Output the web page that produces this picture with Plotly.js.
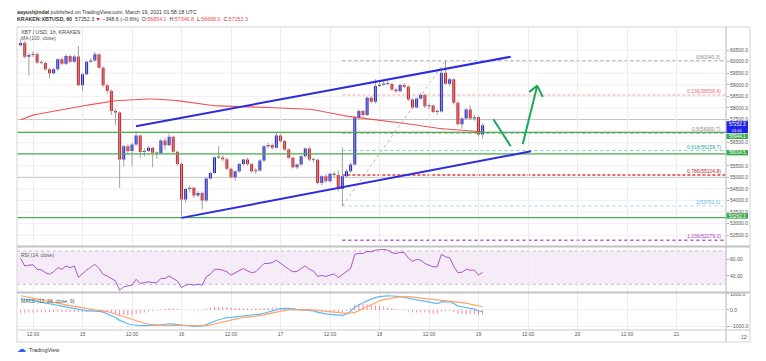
<!DOCTYPE html>
<html><head><meta charset="utf-8">
<script src="https://cdn.plot.ly/plotly-3.0.1.min.js"></script>
<style>html,body{margin:0;padding:0;background:#fff;}#chart{width:766px;height:361px;}</style>
</head><body><div id="chart"></div>
<script>
// ---------- DATA (hourly candles, KRAKEN:XBTUSD, from 2021-03-14 09:00 UTC) ----------
const firstCandleUTC = [2021, 2, 14, 9];
const opens = [
60710,60810,60215,60290,60320,59960,59940,59670,59500,59670,
60100,59910,60250,60000,60220,58980,59455,60000,60050,60320,
59740,58980,58730,57866,57800,55775,56350,56140,56424,56813,
56100,56140,56277,56060,56040,56597,56394,56753,56104,55584,
54043,54502,54550,54216,54330,54000,54952,55195,55875,55860,
55780,55368,55009,55268,55584,55775,55584,55268,55300,55730,
56350,56400,56280,56813,56567,56208,55845,55440,55558,55918,
56250,55775,55760,54762,55052,54835,55152,55100,54502,55052,
55268,55558,57576,57866,57693,58442,58268,58950,59000,59060,
59040,58800,58720,58990,58915,58370,58020,58410,58555,58077,
58110,57830,57850,59520,59050,59240,58220,57300,57545,57935,
57545,57600,56854.1];
const highs = [
60980,60900,60380,60450,60400,60050,60000,59720,59720,60150,
60180,60330,60300,60300,60680,59500,60050,60150,60420,60350,
59800,59050,58800,57950,57850,56400,56420,56500,57000,56850,
56250,56350,56320,56120,56650,56700,56900,56800,56150,55620,
54550,54650,54600,54400,54400,55000,55250,55900,56350,55950,
55850,55420,55300,55620,55800,55850,55620,55400,55780,56400,
56480,56470,56950,56880,56620,56260,55900,55600,55950,56300,
56330,55850,55800,55100,55150,55200,55250,55300,56300,55350,
55650,57650,57950,57920,58500,58500,59250,59150,59200,59180,
59100,58850,59050,59080,58980,58420,58450,58650,58620,58200,
58150,57950,59600,60040.3,59300,59280,58300,57600,58000,58120,
57700,57650,57346.8];
const lows = [
60650,60150,59400,60200,59900,59880,59620,59280,59450,59600,
59850,59850,59950,59950,58950,58730,59400,59950,60000,59700,
58900,58600,57700,57260,54550,55480,56000,55500,56350,55845,
55900,56100,55440,55800,56000,56200,56350,56050,55500,53300,
53900,54350,54100,54150,53620,53950,54900,55150,55800,55700,
55300,54950,54850,55200,55500,55500,55200,55150,55250,55650,
56250,56200,56250,56500,56150,55800,55380,55350,55500,55850,
55700,55650,54700,54650,54780,54780,55000,54400,53761.1,55000,
55200,55500,57500,57600,57650,58200,58200,58900,58950,58980,
58750,58650,58680,58850,58300,57950,57980,58350,58000,57950,
57780,57700,57800,59000,58950,58150,57250,57100,57500,57480,
57450,56760,56668.0];
const closes = [
60810,60215,60290,60320,59960,59940,59670,59500,59670,60100,
59910,60250,60000,60220,58980,59455,60000,60050,60320,59740,
58980,58730,57866,57800,55775,56350,56140,56424,56813,56100,
56140,56277,56060,56040,56597,56394,56753,56104,55584,54043,
54502,54550,54216,54330,54000,54952,55195,55875,55860,55780,
55368,55009,55268,55584,55775,55584,55268,55300,55730,56350,
56400,56280,56813,56567,56208,55845,55440,55558,55918,56250,
55775,55760,54762,55052,54835,55152,55100,54502,55052,55268,
55558,57576,57866,57693,58442,58268,58950,59000,59060,59040,
58800,58720,58990,58915,58370,58020,58410,58555,58077,58110,
57830,57850,59520,59050,59240,58220,57300,57545,57935,57545,
57600,56854.1,57252.3];
const ma100 = [
57490,57560,57630,57690,57725,57760,57795,57830,57860,57895,
57930,57970,57995,58025,58055,58085,58115,58145,58175,58210,
58240,58265,58295,58310,58320,58330,58340,58355,58375,58390,
58390,58388,58385,58380,58370,58360,58348,58335,58315,58290,
58265,58235,58200,58165,58140,58125,58110,58095,58090,58087,
58084,58081,58075,58068,58055,58045,58040,58035,58030,58025,
58020,58015,58008,58002,57997,57990,57982,57972,57963,57955,
57946,57925,57895,57865,57835,57800,57762,57724,57686,57647,
57625,57600,57577,57557,57540,57522,57504,57486,57468,57445,
57418,57393,57368,57343,57322,57292,57262,57230,57200,57165,
57140,57118,57105,57090,57072,57060,57048,57035,57022,57010,
56995,56978,56962];
const rsi14 = [
61,52,53,53.5,48,47.5,44,42,45,50,
48,52,50,52,38.5,43,47,50.5,54,49,
42,40,37,34,23,27,28,29,36,31,
32,33,32,32,37,37,40,37,34,26,
29,30,29,30,29,39,42,48,48,47,
45,41,44,47,49,46,44,45,50,55,
55,56,59,55,52,48,45,45.5,49,52,
48,46,39.5,40.5,39.5,41,42.5,38,41.5,45.5,
49,66,67,67,69.5,69,71,71.5,72,71,
68,67,68.5,68,61.5,57.5,60,59,55,53,
51,51,66,63,62,51.5,44,44.5,48,47,
47,41,44.5];
const macdLine = [
700,670,630,590,545,490,440,390,340,300,
250,190,130,90,40,-20,-50,-60,-55,-80,
-130,-230,-330,-460,-640,-750,-850,-910,-950,-966,
-970,-968,-960,-940,-915,-890,-850,-870,-900,-960,
-990,-1005,-1010,-1005,-1000,-900,-800,-680,-600,-540,
-470,-455,-430,-400,-380,-350,-340,-310,-250,-200,
-120,-40,40,80,100,100,80,40,10,0,
-10,-60,-150,-210,-240,-270,-300,-340,-330,-250,
-80,170,330,450,560,680,760,820,860,870,
865,855,820,770,720,640,610,580,550,500,
440,400,500,520,500,400,240,200,160,110,
50,-60,-100];
const signalLine = [
880,840,790,740,690,640,580,520,470,420,
370,320,270,220,170,120,80,40,10,-20,
-50,-100,-170,-250,-340,-440,-530,-610,-690,-760,
-820,-870,-905,-925,-940,-950,-955,-960,-963,-966,
-970,-970,-970,-968,-966,-960,-925,-860,-780,-720,
-660,-610,-560,-510,-460,-430,-420,-390,-340,-300,
-240,-180,-110,-60,-20,0,10,25,35,40,
20,0,-25,-50,-80,-103,-140,-170,-200,-210,
-190,-150,-50,80,220,360,480,570,640,700,
740,780,810,823,820,790,760,735,705,675,
650,630,600,580,560,530,490,460,420,360,
310,250,200];
const macdHist = [
-180,-170,-160,-150,-145,-150,-140,-130,-130,-120,
-120,-130,-140,-130,-130,-140,-130,-100,-65,-60,
-80,-130,-160,-210,-300,-310,-320,-300,-260,-206,
-150,-98,-55,-15,25,60,105,90,63,6,
-20,-35,-40,-37,-34,60,125,180,180,180,
190,155,130,110,80,80,80,80,90,100,
120,140,150,140,120,100,70,15,-25,-40,
-30,-60,-125,-160,-160,-167,-160,-170,-130,-40,
110,320,380,370,340,320,280,250,220,170,
125,75,10,-53,-100,-150,-150,-155,-155,-175,
-210,-230,-100,-60,-60,-130,-250,-260,-260,-250,
-260,-310,-300];

const timeTickVals = ['2021-03-14 12:00','2021-03-15 00:00','2021-03-15 12:00','2021-03-16 00:00','2021-03-16 12:00','2021-03-17 00:00','2021-03-17 12:00','2021-03-18 00:00','2021-03-18 12:00','2021-03-19 00:00','2021-03-19 12:00','2021-03-20 00:00','2021-03-20 12:00','2021-03-21 00:00'];
const timeTickText = ['12:00','15','12:00','16','12:00','17','12:00','18','12:00','19','12:00','20','12:00','21'];
// 57000.0 and 56000.0 sit under the price boxes in the reference, so they are not shown
const priceTickVals = [52500,53000,53500,54000,54500,55000,55500,56500,57500,58000,58500,59000,59500,60000,60500];
const priceTickText = ['52500.0','53000.0','53500.0','54000.0','54500.0','55000.0','55500.0','56500.0','57500.0','58000.0','58500.0','59000.0','59500.0','60000.0','60500.0'];
const gridPriceVals = [52500,53000,53500,54000,54500,55000,55500,56000,56500,57000,57500,58000,58500,59000,59500,60000,60500];
const rsiTickVals = [40, 60];
const rsiTickText = ['40.00','60.00'];
const macdTickVals = [1000, 0, -1000];
const macdTickText = ['1000.0','0.0','\u22121000.0'];

// drawings
const greenLevels = [56944.1, 56014.5, 53262.3];
const darkGridLevels = [57500, 55000];
const fibRatios = ['0','0.236','0.5','0.618','0.786','1','1.236'];
const fibPrices = [60040.3, 58558.4, 56900.7, 56159.7, 55104.8, 53761.1, 52279.2];
const fibLineColors = ['#a8a8a8','#f4a6a6','#a8a8a8','#7ccfc4','#e53935','#9fd0f5','#b452d6'];
const fibTextColors = ['#8a8a8a','#f07070','#8a8a8a','#26a69a','#b71c1c','#5ab4ee','#a43fc8'];
const fibStart = '2021-03-17 15:00', fibHigh = '2021-03-18 16:00', chartEnd = '2021-03-21 12:00';
const upperChannelT = ['2021-03-15 12:58','2021-03-19 07:48'], upperChannelP = [57211, 60212];
const lowerChannelT = ['2021-03-16 00:00','2021-03-19 12:44'], lowerChannelP = [53250, 56128];
const arrowDownT = ['2021-03-19 03:36','2021-03-19 07:48'], arrowDownP = [57514, 56345];
const arrowUpT = ['2021-03-19 10:43','2021-03-19 14:15'], arrowUpP = [56431, 58965];
const arrowHeadT = ['2021-03-19 12:19','2021-03-19 14:15','2021-03-19 15:34'], arrowHeadP = [58696, 58965, 58480];

// ---------- BUILD ----------
const F = 'Liberation Sans, Arial, sans-serif';
const t0 = Date.UTC(firstCandleUTC[0], firstCandleUTC[1], firstCandleUTC[2], firstCandleUTC[3]);
const times = opens.map((_, k) => new Date(t0 + k * 3600e3).toISOString().slice(0, 16).replace('T', ' '));

const upColor = '#2222dc', downColor = '#e3171f', dojiColor = '#3a3a3a';
const bodyBase = opens.map((o, k) => Math.min(o, closes[k]));
const bodyLen = opens.map((o, k) => Math.max(Math.abs(closes[k] - o), 40));
const bodyColor = opens.map((o, k) => Math.abs(closes[k] - o) < 56 ? dojiColor : (closes[k] >= o ? upColor : downColor));
const wx = [], wy = [];
times.forEach((t, k) => { wx.push(t, t, null); wy.push(lows[k], highs[k], null); });

const L = 17, R = 726, T = 27, B = 330;
const xp = px => (px - L) / (R - L);
const yp = py => (B - py) / (B - T);

const traces = [
  {type:'scatter', mode:'lines', x: wx, y: wy, line:{color:'#a0a0a0', width:1}, xaxis:'x', yaxis:'y', hoverinfo:'skip'},
  {type:'bar', x: times, y: bodyLen, base: bodyBase, width: 2.6e6, marker:{color: bodyColor, line:{width:0}}, xaxis:'x', yaxis:'y'},
  {type:'scatter', mode:'lines', x: times, y: ma100, line:{color:'rgba(240,50,50,0.85)', width:1.1}, xaxis:'x', yaxis:'y'},
  {type:'scatter', mode:'lines', x: times, y: rsi14, line:{color:'#a855c8', width:1}, xaxis:'x', yaxis:'y2'},
  {type:'bar', x: times, y: macdHist, width: 0.8e6, marker:{color:'rgba(242,80,125,0.75)', line:{width:0}}, xaxis:'x', yaxis:'y3'},
  {type:'scatter', mode:'lines', x: times, y: macdLine, line:{color:'#5cbcf2', width:1.2}, xaxis:'x', yaxis:'y3'},
  {type:'scatter', mode:'lines', x: times, y: signalLine, line:{color:'#ffa268', width:1.2}, xaxis:'x', yaxis:'y3'}
];

const shapes = [];
function pline(x0, y0, x1, y1, color, width, dash) {
  shapes.push({type:'line', xref:'paper', yref:'paper', x0: xp(x0), y0: yp(y0), x1: xp(x1), y1: yp(y1), line:{color, width, dash: dash || 'solid'}, layer:'above'});
}
// light price grid (every 500)
gridPriceVals.forEach(v => shapes.push({type:'line', xref:'paper', yref:'y', x0:0, x1:1, y0:v, y1:v, line:{color:'#efefef', width:1}, layer:'below'}));
// RSI band
shapes.push({type:'rect', xref:'paper', yref:'y2', x0:0, x1:1, y0:30, y1:70, fillcolor:'rgba(156,39,176,0.09)', line:{width:0}, layer:'below'});
[70, 30].forEach(v => shapes.push({type:'line', xref:'paper', yref:'y2', x0:0, x1:1, y0:v, y1:v, line:{color:'#cfaede', width:1, dash:'dot'}, layer:'below'}));
// darker grid levels
darkGridLevels.forEach(v => shapes.push({type:'line', xref:'paper', yref:'y', x0:0, x1:1, y0:v, y1:v, line:{color:'#c6c6c6', width:1}, layer:'below'}));
// fib levels
fibPrices.forEach((p, k) => shapes.push({type:'line', xref:'x', yref:'y', x0: fibStart, x1: chartEnd, y0:p, y1:p,
  line:{color: fibLineColors[k], width: (k === 4 || k === 6) ? 1.5 : 1, dash: (k === 1 || k === 4) ? '3px,2px' : 'dot'}, layer:'below'}));
shapes.push({type:'line', xref:'x', yref:'y', x0: fibStart, y0: fibPrices[5], x1: fibHigh, y1: fibPrices[0], line:{color:'#b5b5b5', width:1, dash:'dot'}, layer:'below'});
// green levels
greenLevels.forEach(v => shapes.push({type:'line', xref:'paper', yref:'y', x0:0, x1:1, y0:v, y1:v, line:{color:'#4caf50', width:1.3}, layer:'above'}));
// channel
shapes.push({type:'line', xref:'x', yref:'y', x0: upperChannelT[0], y0: upperChannelP[0], x1: upperChannelT[1], y1: upperChannelP[1], line:{color:'#2b2be0', width:2}, layer:'above'});
shapes.push({type:'line', xref:'x', yref:'y', x0: lowerChannelT[0], y0: lowerChannelP[0], x1: lowerChannelT[1], y1: lowerChannelP[1], line:{color:'#2b2be0', width:2}, layer:'above'});
// green arrows
const gC = '#17a85a';
shapes.push({type:'line', xref:'x', yref:'y', x0: arrowDownT[0], y0: arrowDownP[0], x1: arrowDownT[1], y1: arrowDownP[1], line:{color:gC, width:2}, layer:'above'});
shapes.push({type:'line', xref:'x', yref:'y', x0: arrowUpT[0], y0: arrowUpP[0], x1: arrowUpT[1], y1: arrowUpP[1], line:{color:gC, width:2}, layer:'above'});
shapes.push({type:'line', xref:'x', yref:'y', x0: arrowHeadT[0], y0: arrowHeadP[0], x1: arrowHeadT[1], y1: arrowHeadP[1], line:{color:gC, width:2}, layer:'above'});
shapes.push({type:'line', xref:'x', yref:'y', x0: arrowHeadT[1], y0: arrowHeadP[1], x1: arrowHeadT[2], y1: arrowHeadP[2], line:{color:gC, width:2}, layer:'above'});
// frame & separators
shapes.push({type:'rect', xref:'paper', yref:'paper', x0: xp(17), x1: xp(750), y0: yp(27), y1: yp(342), line:{color:'#d4d4d4', width:1}, layer:'above'});
pline(726, 27, 726, 342, '#b8b8b8', 1);
pline(17, 246.5, 750, 246.5, '#c2c2c2', 2);
pline(17, 292.5, 750, 292.5, '#c2c2c2', 2);
pline(17, 330, 750, 330, '#c8c8c8', 1);
// price boxes
function pbox(y0, y1, color) { shapes.push({type:'rect', xref:'paper', yref:'paper', x0: xp(726.5), x1: xp(748), y0: yp(y0), y1: yp(y1), fillcolor: color, line:{width:0}, layer:'above'}); }
pbox(121.2, 133.0, '#2222e6');
pbox(133.6, 139.0, '#3daa4f');
pbox(150.0, 155.4, '#3daa4f');
pbox(213.3, 218.7, '#3daa4f');

const annotations = [];
function txt(px, py, text, size, color, anchor) {
  annotations.push({xref:'paper', yref:'paper', x: xp(px), y: yp(py), text, showarrow:false, xanchor: anchor || 'left', yanchor:'middle', font:{size, color, family:F}, borderpad:0});
}
txt(16, 12, '<b>aayushjindal</b> published on TradingView.com, March 19, 2021 01:58:18 UTC', 5.3, '#333');
txt(16, 19, '<b>KRAKEN:XBTUSD, 60</b>  57252.3 <span style="color:#e0202a">\u25BC</span> \u2212348.6 (\u22120.6%)  O:<span style="color:#ef4b55">56854.1</span>  H:<span style="color:#ef4b55">57346.8</span>  L:<span style="color:#ef4b55">56668.0</span>  C:<span style="color:#ef4b55">57252.3</span>', 5.3, '#333');
txt(20, 32, 'XBT / USD, 1h, KRAKEN', 5.3, '#444');
txt(20, 38.5, 'MA (100, close)', 5, '#555');
txt(20, 254.5, 'RSI (14, close)', 5, '#555');
txt(20, 300.5, 'MACD (12, 26, close, 9)', 5, '#555');
txt(737.3, 124.8, '57252.3', 4.6, '#fff', 'center');
txt(737.3, 130.4, '01:01', 4.0, '#fff', 'center');
txt(737.3, 136.3, '56944.1', 4.6, '#fff', 'center');
txt(737.3, 152.7, '56014.5', 4.6, '#fff', 'center');
txt(737.3, 216.0, '53262.3', 4.6, '#fff', 'center');
txt(740, 336.5, '12:', 5, '#555');
txt(28, 349.5, 'TradingView', 5.5, '#333');
txt(16, 349, '\u2601', 9, '#2a62f2');
fibPrices.forEach((p, k) => annotations.push({xref:'paper', yref:'y', x: xp(722), y: p, xanchor:'right', yanchor:'bottom',
  text: fibRatios[k] + '(' + p.toFixed(1) + ')', showarrow:false, borderpad:0, font:{size:5, color: fibTextColors[k], family:F}}));

const tf = {size:5, color:'#555', family:F};
const layout = {
  width:766, height:361, margin:{l:L, r:766 - R, t:T, b:361 - B},
  paper_bgcolor:'#fff', plot_bgcolor:'#fff', showlegend:false, barmode:'overlay', hovermode:false,
  xaxis:{type:'date', range:['2021-03-14 08:07:16', chartEnd], anchor:'y3', tickvals: timeTickVals, ticktext: timeTickText,
    showgrid:true, gridcolor:'#ececec', gridwidth:1, ticks:'', tickfont: tf, zeroline:false, showline:false, fixedrange:true},
  yaxis:{domain:[yp(246.5), 1], range:[52014, 61498], side:'right', anchor:'x', tickvals: priceTickVals, ticktext: priceTickText,
    showgrid:false, ticks:'outside', ticklen:2, tickcolor:'#aaa', tickfont: tf, zeroline:false, showline:false},
  yaxis2:{domain:[yp(292), yp(247.5)], range:[20.75, 74.2], side:'right', anchor:'x', tickvals: rsiTickVals, ticktext: rsiTickText,
    showgrid:false, ticks:'outside', ticklen:2, tickcolor:'#aaa', tickfont: tf, zeroline:false, showline:false},
  yaxis3:{domain:[0, yp(293)], range:[-1235, 1049], side:'right', anchor:'x', tickvals: macdTickVals, ticktext: macdTickText,
    showgrid:true, gridcolor:'#f0f0f0', ticks:'outside', ticklen:2, tickcolor:'#aaa', tickfont: tf, zeroline:false, showline:false},
  shapes, annotations
};
Plotly.newPlot('chart', traces, layout, {displayModeBar:false, staticPlot:true});
</script>
</body></html>
